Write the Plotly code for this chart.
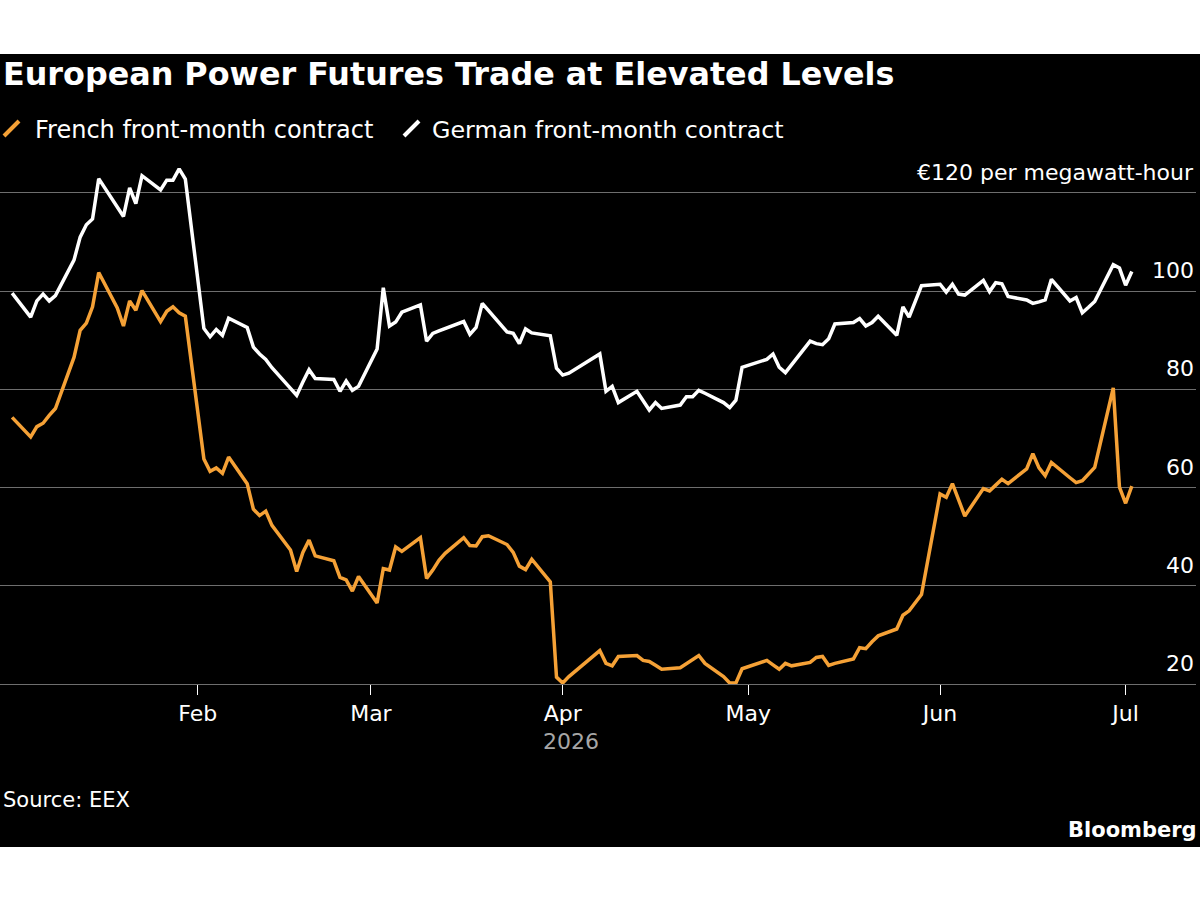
import pandas as pd
import plotly.graph_objects as go

# ---------------- data ----------------
holidays = ["2026-04-03", "2026-04-06", "2026-05-01"]
dates = [d for d in pd.bdate_range("2026-01-02", "2026-07-02") if d.strftime("%Y-%m-%d") not in holidays]

french = [
    # Jan
    74.3, 70.3, 72.4, 73.1, 74.7, 76.1, 86.5, 92.0, 93.5, 96.8, 103.8, 96.6, 92.9, 98.0, 96.1, 100.1,
    93.8, 95.9, 96.8, 95.6, 94.9,
    # Feb
    65.8, 63.3, 64.0, 62.9, 66.2, 60.8, 55.6, 54.3, 55.2, 52.3, 47.3, 42.9, 46.8, 49.3, 46.1,
    45.1, 41.7, 41.2, 38.9, 41.9,
    # Mar
    36.5, 43.5, 43.2, 47.9, 47.0, 49.8, 41.5, 43.2, 45.2, 46.6, 49.8, 48.2, 48.1, 50.0, 50.2,
    48.4, 46.8, 44.0, 43.3, 45.4, 40.8, 21.4,
    # Apr
    20.2, 21.5, 26.8, 24.2, 23.7, 25.6, 25.8, 24.8, 24.6, 23.8, 23.0, 23.3, 24.2, 25.0, 25.8,
    24.2, 21.5, 20.2, 20.2, 23.1,
    # May
    24.8, 23.9, 23.0, 24.2, 23.7, 24.4, 25.4, 25.6, 23.8, 24.2, 25.1, 27.4, 27.2, 28.6, 29.8,
    31.2, 34.0, 34.9, 36.5, 38.2,
    # Jun
    58.7, 58.0, 60.8, 57.5, 54.2, 59.8, 59.3, 60.5, 61.7, 60.8, 63.8, 66.9, 64.0, 62.4, 65.1,
    62.0, 61.0, 61.4, 62.7, 64.1, 80.3, 60.1,
    # Jul
    56.8, 60.3,
]

german = [
    # Jan
    99.6, 94.7, 98.0, 99.4, 98.0, 99.1, 106.3, 111.0, 113.5, 114.7, 122.9, 117.3, 115.2, 121.0, 117.8,
    123.5, 120.6, 122.6, 122.6, 124.9, 122.8,
    # Feb
    92.4, 90.7, 92.2, 91.0, 94.5, 92.6, 88.6, 87.2, 86.1, 84.4, 80.2, 78.8, 81.5, 84.0, 82.2,
    82.0, 79.6, 81.7, 79.8, 80.6,
    # Mar
    88.2, 100.7, 92.9, 93.7, 95.7, 97.2, 89.8, 91.4, 91.9, 92.4, 93.8, 91.2, 92.6, 97.5, 96.0,
    91.7, 91.4, 89.3, 92.3, 91.5, 90.9, 84.3,
    # Apr
    82.9, 83.3, 87.2, 79.6, 80.6, 77.3, 79.6, 77.7, 75.8, 77.3, 76.1, 76.8, 78.5, 78.5, 79.8,
    79.2, 77.3, 76.3, 77.8, 84.5,
    # May
    86.1, 87.2, 84.5, 83.4, 85.0, 89.8, 89.3, 89.1, 90.3, 93.3, 93.6, 94.4, 92.9, 93.6, 94.9,
    91.0, 96.8, 94.7, 97.9, 101.1,
    # Jun
    101.4, 99.8, 101.4, 99.4, 99.2, 102.2, 99.9, 101.7, 101.5, 98.9, 98.2, 97.5, 97.8, 98.2, 102.4,
    98.0, 98.7, 95.6, 96.7, 97.9, 105.4, 104.7,
    # Jul
    101.2, 104.0,
]

month_ticks = ["2026-02-01", "2026-03-01", "2026-04-01", "2026-05-01", "2026-06-01", "2026-07-01"]
month_labels = ["Feb", "Mar", "Apr", "May", "Jun", "Jul"]
y_ticks = [20, 40, 60, 80, 100, 120]
y_labels = ["20", "40", "60", "80", "100", "€120 per megawatt-hour"]

series_names = ["French front-month contract", "German front-month contract"]
ORANGE = "#f5a136"
WHITE = "#ffffff"
GRID = "#6e6e6e"
FONT = "DejaVu Sans"

# ---------------- layout helpers (pixel positions -> paper) ----------------
W, H = 1200, 900
ML, MR, MT, MB = 0, 4, 160, 216
PW = W - ML - MR
PH = H - MT - MB


def px(x):
    return (x - ML) / PW


def py(y):
    return (H - MB - y) / PH


fig = go.Figure()
fig.add_trace(go.Scatter(x=dates, y=german, mode="lines", name=series_names[1],
                         line=dict(color=WHITE, width=3.5), hoverinfo="skip", showlegend=False))
fig.add_trace(go.Scatter(x=dates, y=french, mode="lines", name=series_names[0],
                         line=dict(color=ORANGE, width=3.5), hoverinfo="skip", showlegend=False))

shapes = [
    dict(type="rect", xref="paper", yref="paper", x0=px(-5), x1=px(1205), y0=py(847), y1=py(54),
         fillcolor="#000000", line=dict(width=0), layer="below"),
    dict(type="line", xref="paper", yref="paper", x0=px(4), y0=py(136), x1=px(19), y1=py(121),
         line=dict(color=ORANGE, width=4), layer="above"),
    dict(type="line", xref="paper", yref="paper", x0=px(404), y0=py(136), x1=px(419), y1=py(121),
         line=dict(color=WHITE, width=4), layer="above"),
]

annotations = [
    dict(text="<b>European Power Futures Trade at Elevated Levels</b>", x=px(1), y=py(74),
         xref="paper", yref="paper", xanchor="left", yanchor="middle", showarrow=False,
         font=dict(family=FONT, size=31.8, color=WHITE)),
    dict(text=series_names[0], x=px(33), y=py(130), xref="paper", yref="paper",
         xanchor="left", yanchor="middle", showarrow=False, font=dict(family=FONT, size=24, color=WHITE)),
    dict(text=series_names[1], x=px(430), y=py(130), xref="paper", yref="paper",
         xanchor="left", yanchor="middle", showarrow=False, font=dict(family=FONT, size=23.8, color=WHITE)),
    dict(text="2026", x=px(571), y=py(741), xref="paper", yref="paper",
         xanchor="center", yanchor="middle", showarrow=False, font=dict(family=FONT, size=22, color="#a6a6a6")),
    dict(text="Source: EEX", x=px(1), y=py(800), xref="paper", yref="paper",
         xanchor="left", yanchor="middle", showarrow=False, font=dict(family=FONT, size=21, color=WHITE)),
    dict(text="<b>Bloomberg</b>", x=px(1199), y=py(830), xref="paper", yref="paper",
         xanchor="right", yanchor="middle", showarrow=False, font=dict(family=FONT, size=21, color=WHITE)),
]

# y-axis labels sit above their gridlines at the right edge
for val, lab in zip(y_ticks, y_labels):
    annotations.append(dict(text=lab, x=1, y=val, xref="paper", yref="y",
                            xanchor="right", yanchor="bottom", yshift=6, showarrow=False,
                            font=dict(family=FONT, size=22, color=WHITE)))

fig.update_layout(
    width=W, height=H,
    margin=dict(l=ML, r=MR, t=MT, b=MB, pad=0),
    paper_bgcolor="#ffffff",
    plot_bgcolor="rgba(0,0,0,0)",
    shapes=shapes,
    annotations=annotations,
    showlegend=False,
    hovermode=False,
    xaxis=dict(
        type="date",
        range=["2025-12-31 01:00", "2026-07-12 09:00"],
        tickvals=month_ticks, ticktext=month_labels,
        ticks="outside", ticklen=10, tickwidth=1, tickcolor=WHITE,
        showgrid=False, zeroline=False,
        showline=True, linecolor=GRID, linewidth=1,
        tickfont=dict(family=FONT, size=22, color=WHITE),
    ),
    yaxis=dict(
        range=[20, 126.7],
        tickvals=y_ticks, showticklabels=False,
        ticks="", showgrid=True, gridcolor=GRID, gridwidth=1,
        zeroline=False, showline=False,
    ),
)

fig.write_html("out.html")
